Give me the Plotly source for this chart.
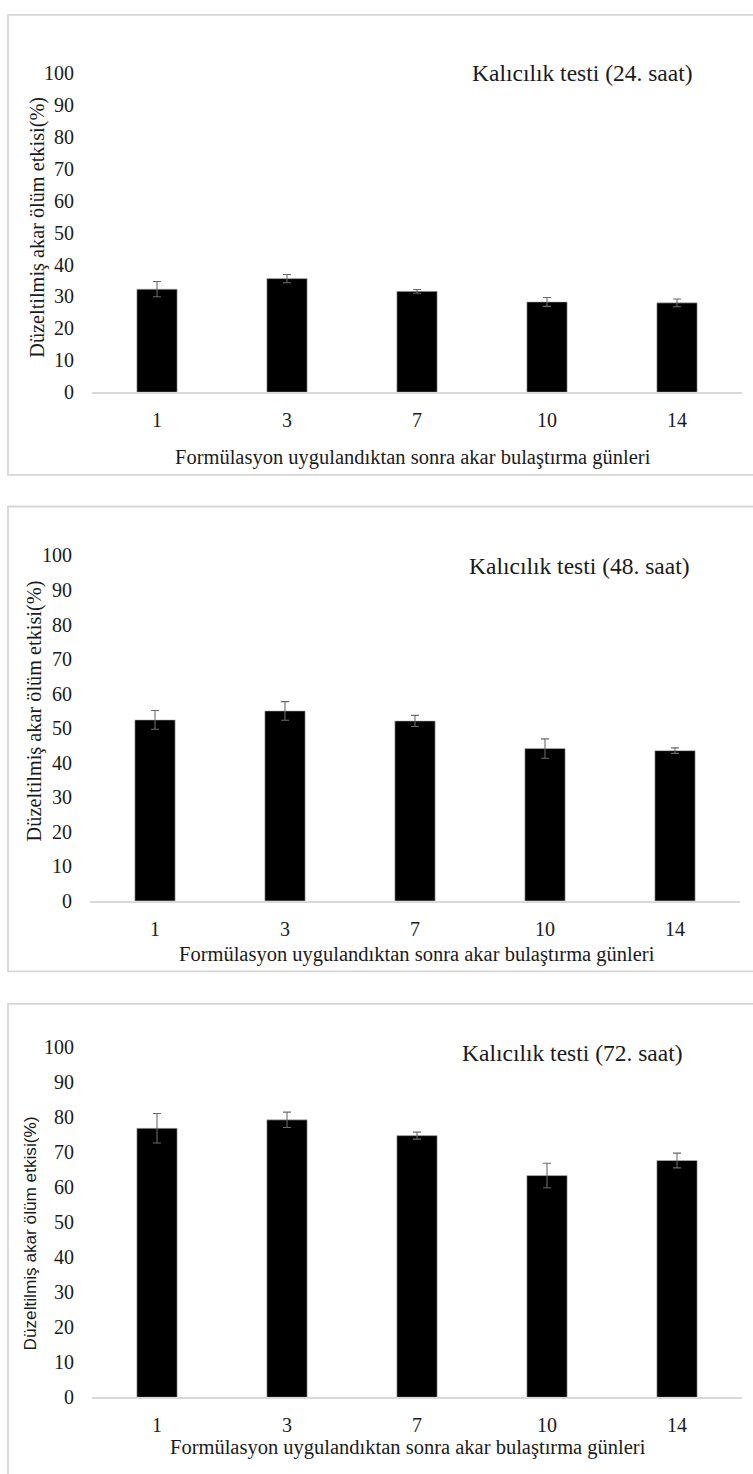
import plotly.graph_objects as go

# ---------------- data ----------------
days = ["1", "3", "7", "10", "14"]

titles = ["Kalıcılık testi (24. saat)", "Kalıcılık testi (48. saat)", "Kalıcılık testi (72. saat)"]

mort_24h = [32.3, 35.6, 31.6, 28.3, 28.0]
err_24h = [2.4, 1.3, 0.6, 1.4, 1.2]

mort_48h = [52.4, 55.0, 52.1, 44.1, 43.5]
err_48h = [2.7, 2.7, 1.6, 2.8, 0.8]

mort_72h = [76.8, 79.2, 74.7, 63.3, 67.6]
err_72h = [4.2, 2.2, 1.0, 3.5, 2.1]

y_title = "Düzeltilmiş akar ölüm etkisi(%)"
x_title = "Formülasyon uygulandıktan sonra akar bulaştırma günleri"
y_ticks = [0, 10, 20, 30, 40, 50, 60, 70, 80, 90, 100]

# ---------------- layout (pixels) ----------------
W, H = 753, 1474
SERIF = "Liberation Serif"
SANS = "Liberation Sans"


def py(p):
    return 1 - p / H


def px(p):
    return p / W


panels = [
    dict(vals=mort_24h, errs=err_24h, y0=387.0, y100=63.0, xl=92, xr=742,
         box=(8, 4, 760, 471), title_xy=(582, 63), ytitle_xy=(38, 220), ytitle_font=SERIF, ytitle_size=20.3,
         xtitle_xy=(413, 453)),
    dict(vals=mort_48h, errs=err_48h, y0=903.4, y100=552.7, xl=90, xr=740,
         box=(8, 503, 760, 975), title_xy=(579, 563), ytitle_xy=(34, 711), ytitle_font=SERIF, ytitle_size=20.3,
         xtitle_xy=(417, 958)),
    dict(vals=mort_72h, errs=err_72h, y0=1407.3, y100=1051.7, xl=92, xr=742,
         box=(8, 1008, 760, 1490), title_xy=(572, 1058), ytitle_xy=(30, 1241), ytitle_font=SANS, ytitle_size=17.2,
         xtitle_xy=(408, 1458)),
]

fig = go.Figure()
annotations = []
shapes = []

for i, p in enumerate(panels):
    k = "" if i == 0 else str(i + 1)
    fig.add_trace(go.Bar(
        x=days, y=p["vals"],
        marker=dict(color="black", line=dict(color="#bfbfbf", width=0.6)),
        error_y=dict(type="data", array=p["errs"], visible=True, color="#6b6b6b", thickness=1.1, width=4),
        xaxis="x" + k, yaxis="y" + k, showlegend=False, hoverinfo="x+y",
    ))
    fig.update_layout(**{
        "xaxis" + k: dict(
            domain=[px(p["xl"]), px(p["xr"])], anchor="y" + k, type="category",
            showline=True, linecolor="#d9d9d9", linewidth=1.5, showgrid=False, zeroline=False,
            ticks="outside", ticklen=9, tickcolor="rgba(0,0,0,0)",
            tickfont=dict(family=SERIF, size=20, color="#1a1a1a"), fixedrange=True,
        ),
        "yaxis" + k: dict(
            domain=[py(p["y0"]), py(p["y100"])], anchor="x" + k, range=[0, 100],
            tickvals=y_ticks, showline=False, showgrid=False, zeroline=False,
            ticks="outside", ticklen=13, tickcolor="rgba(0,0,0,0)",
            tickfont=dict(family=SERIF, size=20, color="#1a1a1a"), fixedrange=True,
        ),
    })
    bx0, by0, bx1, by1 = p["box"]
    shapes.append(dict(type="rect", xref="paper", yref="paper",
                       x0=px(bx0), x1=px(bx1), y0=py(by1), y1=py(by0),
                       line=dict(color="#d6d6d6", width=1.8), fillcolor="rgba(0,0,0,0)", layer="below"))
    tx, ty = p["title_xy"]
    annotations.append(dict(text=titles[i], x=px(tx), y=py(ty), xref="paper", yref="paper",
                            showarrow=False, xanchor="center", yanchor="middle",
                            font=dict(family=SERIF, size=23.5, color="#1a1a1a")))
    yx, yy = p["ytitle_xy"]
    annotations.append(dict(text=y_title, x=px(yx), y=py(yy), xref="paper", yref="paper",
                            showarrow=False, xanchor="center", yanchor="middle", textangle=-90,
                            font=dict(family=p["ytitle_font"], size=p["ytitle_size"], color="#1a1a1a")))
    xx, xy = p["xtitle_xy"]
    annotations.append(dict(text=x_title, x=px(xx), y=py(xy), xref="paper", yref="paper",
                            showarrow=False, xanchor="center", yanchor="middle",
                            font=dict(family=SERIF, size=20.5, color="#1a1a1a")))

fig.update_layout(
    width=W, height=H, margin=dict(l=0, r=0, t=0, b=0),
    paper_bgcolor="white", plot_bgcolor="white",
    bargap=0.69, annotations=annotations, shapes=shapes,
)

fig.write_html("out.html", config={"displayModeBar": False})
